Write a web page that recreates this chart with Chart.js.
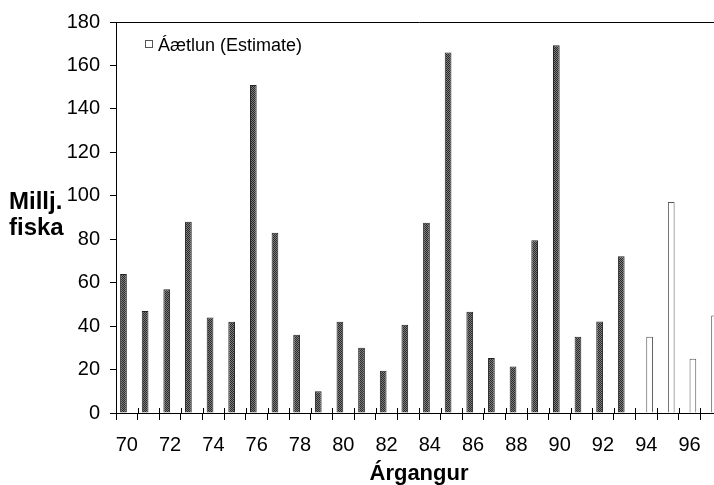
<!DOCTYPE html>
<html><head><meta charset="utf-8">
<script src="https://cdn.jsdelivr.net/npm/chart.js@4/dist/chart.umd.min.js"></script>
<style>html,body{margin:0;padding:0;overflow:hidden;background:#fff;width:714px;height:485px}canvas{display:block}</style>
</head><body>
<canvas id="c" width="740" height="485"></canvas>
<script>
const categories = ['70','71','72','73','74','75','76','77','78','79','80','81','82','83','84','85','86','87','88','89','90','91','92','93','94','95','96','97'];
const measured = [64,47,57,88,44,42,151,83,36,10,42,30,19.5,40.6,87.6,166,46.6,25.3,21.4,79.5,169.3,35.1,42.1,72.2,null,null,null,null];
const estimate = [null,null,null,null,null,null,null,null,null,null,null,null,null,null,null,null,null,null,null,null,null,null,null,null,35.1,97.1,25,44.9];
const yTicks = [0,20,40,60,80,100,120,140,160,180];
const seriesNames = ['Mæling','Áætlun (Estimate)'];
const yTitle = ['Millj.','fiska'];
const xTitle = 'Árgangur';

const FONT = "'Liberation Sans', Arial, sans-serif";

function hatch(){
  const p = document.createElement('canvas'); p.width = 4; p.height = 4;
  const g = p.getContext('2d');
  g.fillStyle = '#7c7c7c'; g.fillRect(0,0,4,4);
  g.fillStyle = '#2a2a2a';
  for (let y=0;y<4;y++) for (let x=0;x<4;x++) if ((x+y)%2===0) g.fillRect(x,y,1,1);
  return g.createPattern(p,'repeat');
}

const extras = {
  id:'extras',
  afterDraw(chart){
    const ctx = chart.ctx;
    const xs = chart.scales.x, a = chart.chartArea;
    ctx.save();
    // upper half of the crossing x-axis tick marks
    ctx.strokeStyle = '#000'; ctx.lineWidth = 1;
    const step = xs.getPixelForValue(1) - xs.getPixelForValue(0);
    ctx.beginPath();
    for (let i=0;i<=categories.length;i++){
      const px = Math.round(xs.getPixelForValue(i) - step/2) + 0.5;
      ctx.moveTo(px, a.bottom - 5); ctx.lineTo(px, a.bottom);
    }
    ctx.stroke();
    ctx.fillStyle = '#000';
    ctx.font = 'bold 24px ' + FONT;
    ctx.textAlign = 'left';
    ctx.textBaseline = 'alphabetic';
    ctx.fillText(yTitle[0], 9, 209);
    ctx.fillText(yTitle[1], 9, 235);
    // legend (estimate series only)
    ctx.strokeStyle = '#555';
    ctx.strokeRect(145.5, 40.5, 7, 7);
    ctx.font = '18px ' + FONT;
    ctx.fillText(seriesNames[1], 158, 51);
    ctx.restore();
  }
};

new Chart(document.getElementById('c'), {
  type:'bar',
  data:{
    labels:categories,
    datasets:[
      {label:seriesNames[0], data:measured, backgroundColor:hatch(), borderColor:'#222', borderWidth:1, categoryPercentage:0.62, barPercentage:1},
      {label:seriesNames[1], data:estimate, backgroundColor:'#fff', borderColor:'#555', borderWidth:1, categoryPercentage:0.62, barPercentage:1}
    ]
  },
  options:{
    responsive:false, animation:false, devicePixelRatio:1,
    layout:{padding:{left:0, top:20, right:18, bottom:0}},
    plugins:{legend:{display:false}, tooltip:{enabled:false}},
    scales:{
      x:{
        offset:true,
        grid:{offset:true, drawOnChartArea:false, color:'transparent', tickColor:'#000', tickLength:7},
        border:{color:'#000', width:1},
        ticks:{autoSkip:false, maxRotation:0, minRotation:0, padding:13, color:'#000', font:{family:FONT, size:20},
          callback:(v,i)=> i%2===0 ? categories[i] : ''},
        title:{display:true, text:xTitle, color:'#000', font:{family:FONT, size:22, weight:'bold'}, padding:{top:0, bottom:-2}},
        afterFit:s=>{ s.height = 72; }
      },
      y:{
        min:0, max:180,
        afterBuildTicks:s=>{ s.ticks = yTicks.map(v=>({value:v})); },
        grid:{color:c=> (c.tick && c.tick.value===180) ? '#000' : 'transparent', tickColor:'#000', tickLength:6},
        border:{color:'#000', width:1},
        ticks:{padding:10, color:'#000', font:{family:FONT, size:20}},
        afterFit:s=>{ s.width = 116; }
      }
    }
  },
  plugins:[extras]
});
</script>
</body></html>
